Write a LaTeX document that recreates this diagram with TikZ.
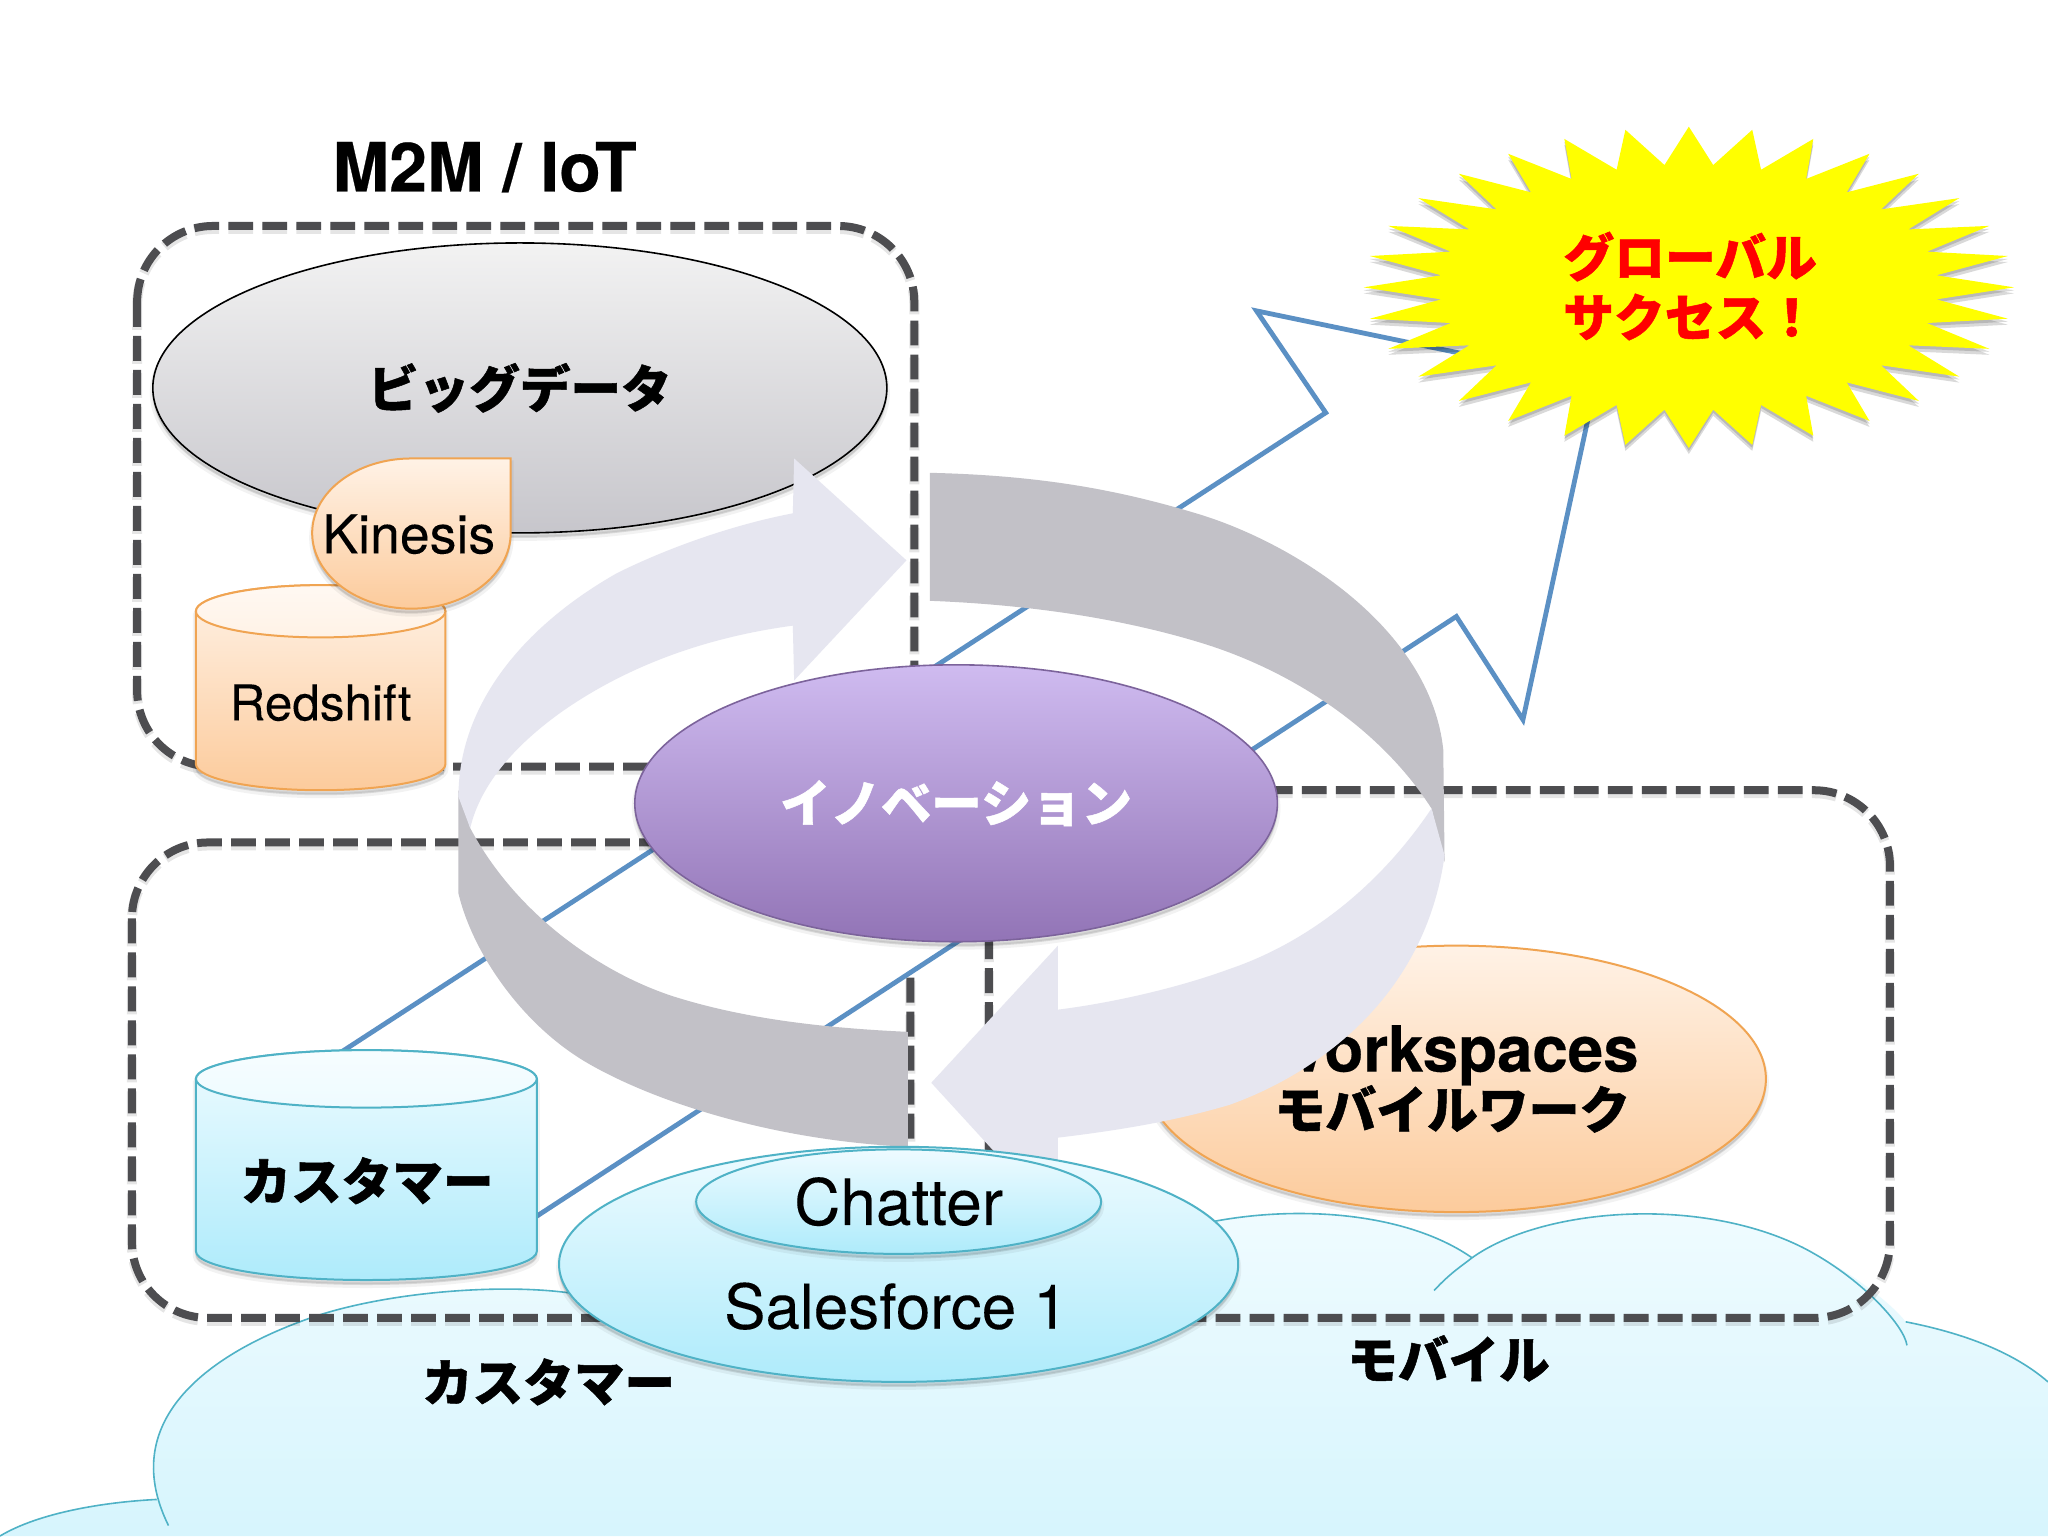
\documentclass[tikz,border=0pt]{standalone}
\usepackage{fontspec}
\setmainfont[UprightFeatures={FakeBold=0.12},BoldFeatures={FakeBold=0.35}]{TeX Gyre Heros}
\newfontfamily\cjk[BoldFeatures={FakeBold=1.0}]{Noto Sans CJK JP}
\usetikzlibrary{shapes.geometric}
\def\uu{0.65306pt}
\newcommand\txtsize[2]{\fontsize{#1}{#2}\selectfont}
\definecolor{boxgray}{HTML}{4D4D50}
\definecolor{arrowblue}{HTML}{5B90C4}
\definecolor{ringdark}{HTML}{C2C1C7}
\definecolor{ringlight}{HTML}{E6E6F0}
\definecolor{cyanline}{HTML}{4FB2C6}
\definecolor{cyantop}{HTML}{EEFBFF}
\definecolor{cyanbot}{HTML}{AEEBFB}
\definecolor{orangeline}{HTML}{F0A452}
\definecolor{orangetop}{HTML}{FFF2E6}
\definecolor{orangebot}{HTML}{FCCB9C}
\definecolor{purpletop}{HTML}{CFBBF0}
\definecolor{purplebot}{HTML}{9274B6}
\definecolor{staryellow}{RGB}{255,255,0}
\definecolor{starred}{RGB}{255,0,0}
\tikzset{
  softshadow/.style={
    preaction={draw=black,draw opacity=.05,fill=black,fill opacity=.06,line width=3pt,transform canvas={yshift=-2.5pt}},
    preaction={draw=black,draw opacity=.05,fill=black,fill opacity=.08,line width=1pt,transform canvas={yshift=-2pt}}},
  starshadow/.style={
    preaction={fill=black,fill opacity=.15,transform canvas={yshift=-3pt}},
    preaction={fill=black,fill opacity=.15,transform canvas={yshift=-1.5pt}}},
  dashbox/.style={draw=boxgray,line width=4pt,dash pattern=on 12.4pt off 4.6pt,rounded corners=38pt,
    preaction={draw=black,draw opacity=.10,line width=5pt,dash pattern=on 12.4pt off 4.6pt,transform canvas={yshift=-1.5pt}}},
  blueshape/.style={draw=arrowblue,line width=2.4pt,fill=white,miter limit=10},
  cyanfill/.style={draw=cyanline,line width=1pt,top color=cyantop,bottom color=cyanbot},
  orangefill/.style={draw=orangeline,line width=1pt,top color=orangetop,bottom color=orangebot},
  ell/.style n args={2}{ellipse,inner sep=0pt,minimum width={#1*\uu},minimum height={#2*\uu}},
  jalabel/.style={font=\cjk\bfseries\txtsize{25.3}{29},inner sep=0pt},
  latin/.style={font=\txtsize{#1}{#1},inner sep=0pt},
}
\begin{document}
\begin{tikzpicture}[x=\uu,y=-\uu]
\useasboundingbox (0,0) rectangle (1568,1176);
\fill[white] (0,0) rectangle (1568,1176);
% cloud
\shade[top color=cyantop!85!white,bottom color=cyanbot!50!white,shading angle=0]
  (129,1168) .. controls (88,1085) and (165,1035) .. (235,1010)
  .. controls (290,990) and (380,982) .. (437,990)
  -- (930,935) .. controls (1000,922) and (1080,930) .. (1127,963)
  .. controls (1180,925) and (1300,915) .. (1380,955)
  .. controls (1420,975) and (1450,1000) .. (1459,1012)
  .. controls (1510,1022) and (1545,1038) .. (1568,1058)
  -- (1568,1176) -- (129,1176) -- cycle
  (0,1176) .. controls (30,1158) and (80,1150) .. (120,1148) -- (140,1150) -- (140,1176) -- cycle;
\draw[cyanline,line width=.8pt] (0,1176) .. controls (30,1158) and (80,1150) .. (120,1148);
\draw[cyanline,line width=.8pt] (129,1168) .. controls (88,1085) and (165,1035) .. (235,1010)
  .. controls (290,990) and (380,982) .. (437,990);
\draw[cyanline,line width=.8pt] (930,935) .. controls (1000,922) and (1080,930) .. (1127,963);
\draw[cyanline,line width=.8pt] (1098,988) .. controls (1110,975) and (1118,970) .. (1127,963)
  .. controls (1180,925) and (1300,915) .. (1380,955)
  .. controls (1425,978) and (1458,1015) .. (1460,1030);
\draw[cyanline,line width=.8pt] (1459,1012) .. controls (1510,1022) and (1545,1038) .. (1568,1058);
% dashed boxes
\draw[dashbox] (105,173) rectangle (700,587);
\draw[dashbox] (101,645) rectangle (697,1009);
\draw[dashbox] (757,605) rectangle (1447,1009);
\node[inner sep=0pt,font=\bfseries\txtsize{34}{34}] (m2m) at (371,128) {M2M / IoT};
\node[jalabel] (customerlabel) at (420,1058) {カスタマー};
\node[jalabel] (mobilelabel) at (1109,1040) {モバイル};
% big data
\node[ell={562}{222},draw=black,line width=.8pt,top color=gray!10!white,bottom color=ringdark!92!white,softshadow] (bigdata) at (398,297) {};
\node[jalabel] at (bigdata.center) {ビッグデータ};
% blue growth arrow
\coordinate (a1) at (262,805);
\coordinate (a2) at (1015,316);
\coordinate (a3) at (962,238);
\coordinate (a4) at (1222,292);
\coordinate (a5) at (1166,551);
\coordinate (a6) at (1115,472);
\coordinate (a7) at (405,935);
\draw[blueshape] (a1) -- (a2) -- (a3) -- (a4) -- (a5) -- (a6) -- (a7) -- cycle;
% star
\path[fill=staryellow,starshadow] (1293,97)
  \foreach \i [evaluate=\i as \r using {mod(\i,2)==0 ? 1 : 0.765}] in {0,...,63}
    { -- ({1293+249*\r*cos(90+\i*5.625)},{220-123*\r*sin(90+\i*5.625)}) } -- cycle;
\node[inner sep=0pt,font=\cjk\bfseries\txtsize{25.4}{30},text=starred,align=center] (success) at (1294,219) {グローバル\\サクセス！};
% redshift
\path[orangefill,softshadow] (150,468) -- (150,585) arc[start angle=180,end angle=0,x radius=95.5,y radius=20] -- (341,468) arc[start angle=0,end angle=-180,x radius=95.5,y radius=20] -- cycle;
\node[ell={191}{40},draw=orangeline,line width=1pt,top color=orangetop!50!white,bottom color=orangetop] (redtop) at (245.5,468) {};
\node[latin=24.7] (redshift) at (245.5,538) {Redshift};
% kinesis
\path[orangefill,softshadow] (391,351) -- (391,408) arc[start angle=0,end angle=180,x radius=76,y radius=58] arc[start angle=180,end angle=270,x radius=76,y radius=57] -- cycle;
\node[latin=26.8] (kinesis) at (313,409) {Kinesis};
% customer cylinder
\path[cyanfill,softshadow] (150,826) -- (150,958) arc[start angle=180,end angle=0,x radius=130.5,y radius=22] -- (411,826) arc[start angle=0,end angle=-180,x radius=130.5,y radius=22] -- cycle;
\node[ell={261}{44},draw=cyanline,line width=1pt,top color=cyantop!50!white,bottom color=cyantop] (custop) at (280.5,826) {};
\node[jalabel] (customer) at (281,904) {カスタマー};
% workspaces
\node[ell={474}{204},orangefill,softshadow] (workspaces) at (1115,826) {};
\node[font=\bfseries\txtsize{31.8}{31.8},inner sep=0pt] (wstext) at (1112,808) {Workspaces};
\node[jalabel,font=\cjk\bfseries\txtsize{25.4}{29}] (mobilework) at (1112,849) {モバイルワーク};
% ring
\fill[ringdark] (712,362) .. controls (800,364) and (860,376) .. (919,394)
  .. controls (990,416) and (1095,480) .. (1105,574) -- (1106,660) -- (1096,619)
  .. controls (1055,555) and (985,512) .. (919,492)
  .. controls (860,474) and (790,463) .. (712,460) -- cycle;
\fill[ringdark] (351,605) -- (351,684) .. controls (362,730) and (400,785) .. (450,814)
  .. controls (500,843) and (590,873) .. (695,878) -- (695,790)
  .. controls (630,787) and (570,780) .. (516,763)
  .. controls (460,745) and (395,700) .. (360,634) -- cycle;
\fill[ringlight] (351,610) .. controls (351,540) and (400,480) .. (472,439)
  .. controls (510,420) and (560,402) .. (607,393) -- (608,351) -- (694,429) -- (608,521) -- (607,479)
  .. controls (540,488) and (480,510) .. (430,545)
  .. controls (395,570) and (368,600) .. (360,634) -- cycle;
\fill[ringlight] (1096,619) .. controls (1055,680) and (1000,722) .. (941,742)
  .. controls (900,757) and (850,768) .. (810,773) -- (810,724) -- (713,829) -- (810,935) -- (810,871)
  .. controls (860,865) and (900,858) .. (941,846)
  .. controls (1000,825) and (1090,770) .. (1106,655) -- cycle;
% innovation
\node[ell={492}{212},draw=purplebot!85!black,line width=.8pt,top color=purpletop,bottom color=purplebot,softshadow,font=\cjk\bfseries\txtsize{25.2}{29},text=white] (innovation) at (732,615) {イノベーション};
% salesforce
\node[ell={520}{180},cyanfill,softshadow] (salesforce) at (688,968) {};
\node[ell={310}{80},cyanfill,softshadow] (chatter) at (688,920) {};
\node[latin=32] (chattertext) at (688,920) {Chatter};
\node[latin=31] (sftext) at (686,1000) {Salesforce 1};
\end{tikzpicture}
\end{document}
